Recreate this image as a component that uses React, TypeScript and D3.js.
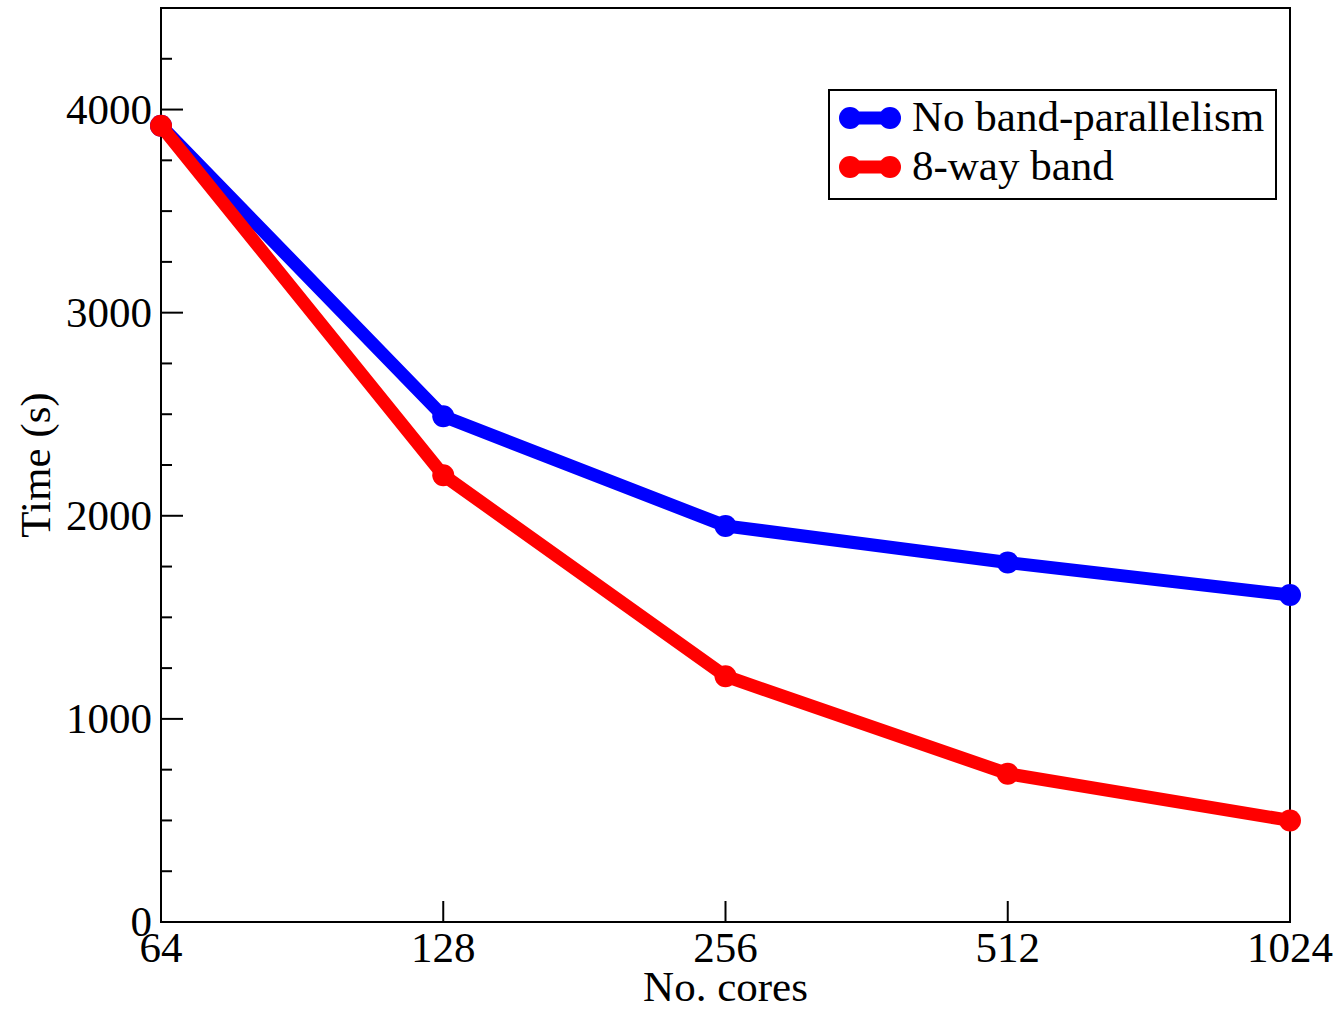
import { useEffect, useRef } from "react";
import * as d3 from "d3";

const cores = [64, 128, 256, 512, 1024];
const noBand = [3920, 2490, 1950, 1770, 1610];
const band8 = [3920, 2200, 1210, 730, 500];
const yMajor = [0, 1000, 2000, 3000, 4000];
const yMinor = [250, 500, 750, 1250, 1500, 1750, 2250, 2500, 2750, 3250, 3500, 3750, 4250];

const series = [
  { name: "No band-parallelism", color: "#0000ff", values: noBand },
  { name: "8-way band", color: "#ff0000", values: band8 },
];

export default function App() {
  const ref = useRef<SVGSVGElement>(null);

  useEffect(() => {
    const svg = d3.select(ref.current);
    svg.selectAll("*").remove();

    const left = 161;
    const right = 1290;
    const top = 8;
    const bottom = 922;
    const font = "'Liberation Serif', 'Times New Roman', serif";
    const fs = 43;

    const x = d3.scaleLog().base(2).domain([64, 1024]).range([left, right]);
    const y = d3.scaleLinear().domain([0, 4500]).range([bottom, top]);

    // y ticks (inward)
    const g = svg.append("g");
    g.selectAll(".ymaj")
      .data(yMajor)
      .enter()
      .append("line")
      .attr("x1", left)
      .attr("x2", left + 22)
      .attr("y1", (d) => y(d))
      .attr("y2", (d) => y(d))
      .attr("stroke", "#000")
      .attr("stroke-width", 2);
    g.selectAll(".ymin")
      .data(yMinor)
      .enter()
      .append("line")
      .attr("x1", left)
      .attr("x2", left + 11)
      .attr("y1", (d) => y(d))
      .attr("y2", (d) => y(d))
      .attr("stroke", "#000")
      .attr("stroke-width", 2);
    g.selectAll(".ylab")
      .data(yMajor)
      .enter()
      .append("text")
      .attr("x", left - 9)
      .attr("y", (d) => y(d) + 14)
      .attr("text-anchor", "end")
      .attr("font-family", font)
      .attr("font-size", fs)
      .text((d) => d);

    // x ticks
    g.selectAll(".xt")
      .data(cores)
      .enter()
      .append("line")
      .attr("x1", (d) => x(d))
      .attr("x2", (d) => x(d))
      .attr("y1", bottom)
      .attr("y2", bottom - 21)
      .attr("stroke", "#000")
      .attr("stroke-width", 2);
    g.selectAll(".xlab")
      .data(cores)
      .enter()
      .append("text")
      .attr("x", (d) => x(d))
      .attr("y", bottom + 40)
      .attr("text-anchor", "middle")
      .attr("font-family", font)
      .attr("font-size", fs)
      .text((d) => d);

    // frame
    svg
      .append("rect")
      .attr("x", left)
      .attr("y", top)
      .attr("width", right - left)
      .attr("height", bottom - top)
      .attr("fill", "none")
      .attr("stroke", "#000")
      .attr("stroke-width", 2);

    // axis titles
    svg
      .append("text")
      .attr("x", (left + right) / 2)
      .attr("y", 1001)
      .attr("text-anchor", "middle")
      .attr("font-family", font)
      .attr("font-size", fs)
      .text("No. cores");
    svg
      .append("text")
      .attr("transform", `translate(50, ${(top + bottom) / 2}) rotate(-90)`)
      .attr("text-anchor", "middle")
      .attr("font-family", font)
      .attr("font-size", fs)
      .text("Time (s)");

    // series
    const line = d3
      .line<number>()
      .x((_, i) => x(cores[i]))
      .y((d) => y(d));
    series.forEach((s) => {
      svg
        .append("path")
        .datum(s.values)
        .attr("d", line)
        .attr("fill", "none")
        .attr("stroke", s.color)
        .attr("stroke-width", 13);
      svg
        .selectAll(null)
        .data(s.values)
        .enter()
        .append("circle")
        .attr("cx", (_, i) => x(cores[i]))
        .attr("cy", (d) => y(d))
        .attr("r", 11)
        .attr("fill", s.color);
    });

    // legend
    const lg = svg.append("g");
    lg.append("rect")
      .attr("x", 829)
      .attr("y", 90)
      .attr("width", 447)
      .attr("height", 109)
      .attr("fill", "#fff")
      .attr("stroke", "#000")
      .attr("stroke-width", 2);
    series.forEach((s, i) => {
      const ly = 118 + i * 49;
      lg.append("line")
        .attr("x1", 850)
        .attr("x2", 890)
        .attr("y1", ly)
        .attr("y2", ly)
        .attr("stroke", s.color)
        .attr("stroke-width", 13);
      [850, 890].forEach((cx) =>
        lg.append("circle").attr("cx", cx).attr("cy", ly).attr("r", 11).attr("fill", s.color)
      );
      lg.append("text")
        .attr("x", 912)
        .attr("y", ly + 13)
        .attr("font-family", font)
        .attr("font-size", fs)
        .text(s.name);
    });
  }, []);

  return (
    <svg
      ref={ref}
      width={1341}
      height={1010}
      style={{ position: "absolute", left: 0, top: 0 }}
    ></svg>
  );
}
